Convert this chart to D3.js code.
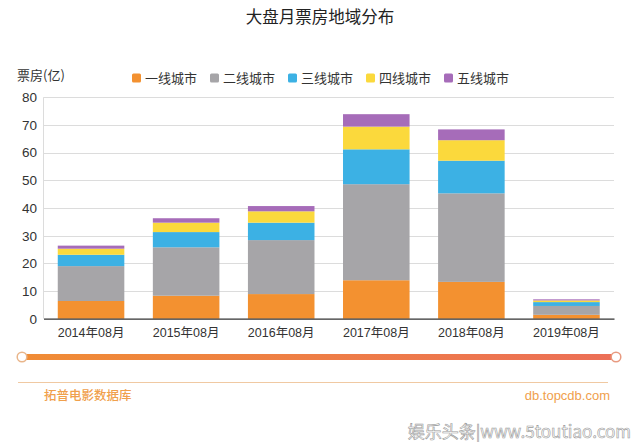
<!DOCTYPE html>
<html>
<head>
<meta charset="utf-8">
<script src="https://cdn.jsdelivr.net/npm/d3@7"></script>
<style>
html,body{margin:0;padding:0;background:#fff;}
svg{display:block;font-family:"Liberation Sans","Noto Sans CJK SC",sans-serif;}
</style>
</head>
<body>
<svg id="chart" width="640" height="442"></svg>
<script>
const categories = ["2014年08月","2015年08月","2016年08月","2017年08月","2018年08月","2019年08月"];
const seriesNames = ["一线城市","二线城市","三线城市","四线城市","五线城市"];
const tier1 = [6.4, 8.3, 8.9, 13.9, 13.3, 1.4];
const tier2 = [12.6, 17.5, 19.5, 34.7, 32.0, 3.2];
const tier3 = [4.1, 5.5, 6.3, 12.6, 11.8, 1.4];
const tier4 = [2.2, 3.4, 4.1, 8.2, 7.4, 0.6];
const tier5 = [1.1, 1.6, 1.9, 4.5, 3.9, 0.4];
const yTicks = [0,10,20,30,40,50,60,70,80];
const colors = ["#f39130","#a6a5a8","#3cb1e4","#fbd93c","#a66cb9"];

const svg = d3.select("#chart");
const seriesData = [tier1,tier2,tier3,tier4,tier5];
const table = categories.map((c,i)=>{
  const o = {cat:c};
  seriesNames.forEach((s,j)=>o[s]=seriesData[j][i]);
  return o;
});
const stacked = d3.stack().keys(seriesNames)(table);

const x = d3.scaleBand().domain(categories).range([43.5,614]).paddingInner(0.3).paddingOuter(0.15);
const y = d3.scaleLinear().domain([0,80]).range([318.7,97.3]);

// title
svg.append("text").attr("x",320).attr("y",23).attr("text-anchor","middle")
  .style("font-family","'Noto Sans CJK SC',sans-serif").style("font-size","16.5px").attr("fill","#222")
  .text("大盘月票房地域分布");

// y unit label
svg.append("text").attr("x",17).attr("y",80)
  .style("font-family","'Noto Sans CJK SC',sans-serif").style("font-size","13px").attr("fill","#333")
  .text("票房(亿)");

// legend
const legX = [132,210,288,366,444];
const leg = svg.append("g");
seriesNames.forEach((s,i)=>{
  const g = leg.append("g").attr("transform",`translate(${legX[i]},78)`);
  g.append("rect").attr("x",0).attr("y",-4.5).attr("width",9).attr("height",9).attr("rx",1.5).attr("fill",colors[i]);
  g.append("text").attr("x",13).attr("y",5).style("font-family","'Noto Sans CJK SC',sans-serif")
    .style("font-size","13px").attr("fill","#333").text(s);
});

// grid
svg.append("g").selectAll("line").data(yTicks.filter(d=>d>0)).join("line")
  .attr("x1",43.5).attr("x2",614).attr("y1",d=>Math.round(y(d))+0.5).attr("y2",d=>Math.round(y(d))+0.5)
  .attr("stroke","#dcdcdc").attr("stroke-width",1);
svg.append("line").attr("x1",43.5).attr("x2",43.5).attr("y1",y(80)).attr("y2",y(0)).attr("stroke","#dcdcdc");

// y axis labels
const yAxis = d3.axisLeft(y).tickValues(yTicks).tickSize(0).tickPadding(0);
const ya = svg.append("g").attr("transform","translate(37,0)").call(yAxis);
ya.select(".domain").remove();
ya.selectAll("text").style("font-size","13.5px").attr("fill","#333").style("font-family","'Liberation Sans',sans-serif");

// bars
svg.append("g").selectAll("g").data(stacked).join("g").attr("fill",(d,i)=>colors[i])
  .selectAll("rect").data(d=>d).join("rect")
  .attr("x",d=>x(d.data.cat)).attr("width",x.bandwidth())
  .attr("y",d=>y(d[1])).attr("height",d=>y(d[0])-y(d[1]));

// x axis
const xAxis = d3.axisBottom(x).tickSize(0).tickPadding(9);
const xa = svg.append("g").attr("transform",`translate(0,${y(0)})`).call(xAxis);
xa.select(".domain").attr("stroke","#333").attr("stroke-width",1.2);
xa.selectAll("text").style("font-size","12.5px").attr("fill","#333")
  .style("font-family","'Liberation Sans','Noto Sans CJK SC',sans-serif");

// slider
const defs = svg.append("defs");
const grad = defs.append("linearGradient").attr("id","sg").attr("x1","0%").attr("x2","100%");
grad.append("stop").attr("offset","0%").attr("stop-color","#f08c35");
grad.append("stop").attr("offset","100%").attr("stop-color","#ec6f57");
svg.append("rect").attr("x",22).attr("y",354).attr("width",594).attr("height",6).attr("fill","url(#sg)");
[22,616].forEach(cx=>{
  svg.append("circle").attr("cx",cx).attr("cy",357).attr("r",4.8).attr("fill","#fff")
    .attr("stroke",cx<100?"#e9b58a":"#e89a80").attr("stroke-width",1.5);
});

// footer
svg.append("line").attr("x1",18).attr("x2",608).attr("y1",382.5).attr("y2",382.5).attr("stroke","#f0c9a2").attr("stroke-width",1);
svg.append("text").attr("x",44).attr("y",400).style("font-family","'Noto Sans CJK SC',sans-serif")
  .style("font-size","12.5px").style("font-weight","500").attr("fill","#f0a04c").text("拓普电影数据库");
svg.append("text").attr("x",610).attr("y",400).attr("text-anchor","end")
  .style("font-size","13px").attr("fill","#f0a04c").text("db.topcdb.com");

// watermark
svg.append("text").attr("x",631).attr("y",438).attr("text-anchor","end")
  .style("font-family","'Noto Sans CJK SC',sans-serif").style("font-size","17px")
  .attr("fill","#fff").attr("stroke","#999").attr("stroke-width",0.6)
  .text("娱乐头条|www.5toutiao.com");
</script>
</body>
</html>
